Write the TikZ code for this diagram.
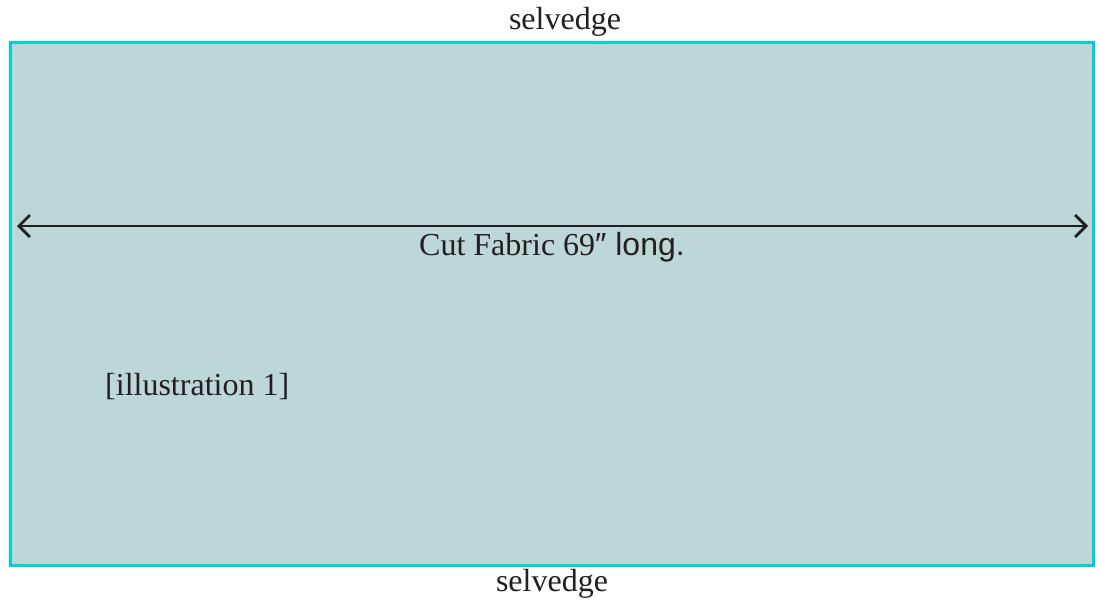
\documentclass[tikz,border=0pt]{standalone}
\usepackage{fontspec}
\setmainfont{Liberation Serif}
\newfontfamily\sansf{Liberation Sans}
\usetikzlibrary{arrows.meta}
\definecolor{fabric}{HTML}{BDD6D7}
\definecolor{edge}{HTML}{00D2D4}
\definecolor{ink}{HTML}{231F20}
\begin{document}
\begin{tikzpicture}[x=1pt,y=-1pt,
  lbl/.style={inner sep=0pt,anchor=base,text=ink,font=\fontsize{32}{38}\selectfont},
  measure/.style={draw=ink,line width=2.8pt,{Straight Barb[length=11pt,width=22pt,line width=2.8pt]}-{Straight Barb[length=11pt,width=22pt,line width=2.8pt]}}]
\useasboundingbox (0,0) rectangle (1099,599);
\path[fill=fabric,draw=edge,line width=3pt] (10,43) rectangle (1093,565);
\node[lbl] (top) at (565,30) {selvedge};
\node[lbl] (bot) at (552,591) {selvedge};
\coordinate (l) at (17,226);
\coordinate (r) at (1088,226);
\draw[measure] (l) -- (r);
\node[lbl] (cut) at (552,255) {Cut Fabric 69{\sansf″ long.}};
\node[lbl,anchor=base west] (ill) at (105,395) {[illustration 1]};
\end{tikzpicture}
\end{document}
